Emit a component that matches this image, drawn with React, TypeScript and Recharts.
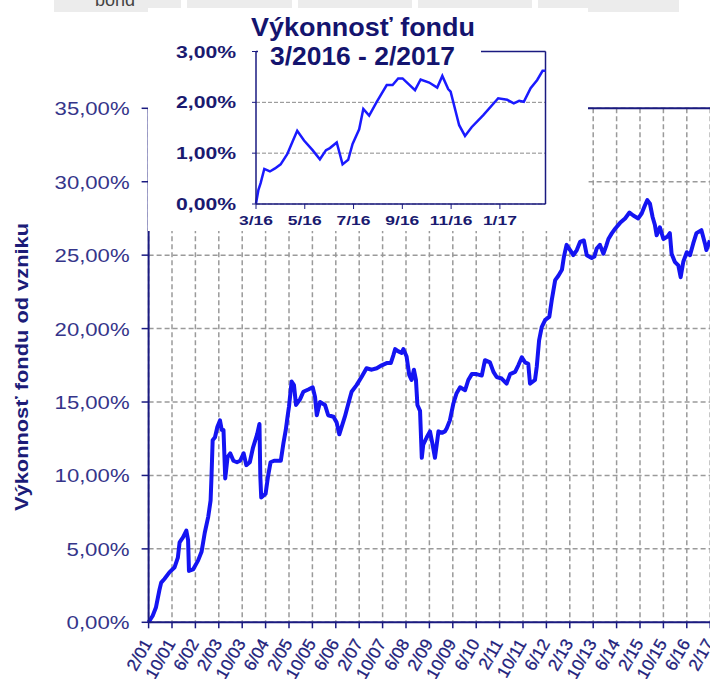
import React from "react";
import {
  LineChart,
  Line,
  XAxis,
  YAxis,
  CartesianGrid,
  ReferenceLine,
} from "recharts";

// main chart: months since 2/2001, cumulative performance in %
const mainMonths = [
  0, 1.4, 2.5, 3.7, 4.3, 5.4, 7.1, 8.9, 10, 10.6, 11.8, 12.9, 13.5, 13.8, 15.2, 16.9, 18.1,
  19.2, 20.4, 21.2, 21.5, 21.9, 22.7, 23.5, 24.4, 25, 25.6, 26.2, 27, 27.9, 29, 30.2, 31.3,
  32.5, 33.4, 34.6, 35.7, 37.1, 37.9, 38.2, 38.5, 40, 40.8, 41.7, 42.9, 45.2, 46.1, 46.9,
  47.5, 48, 48.9, 49.7, 50.4, 51.8, 52.9, 54.6, 56.1, 56.9, 57.5, 58.6, 60.3, 61.4, 63.2,
  64.3, 65.2, 66, 67.1, 68.3, 69.4, 71.1, 72.8, 74.5, 76.3, 78, 79.7, 81.4, 82.8, 83.7,
  84.3, 85.4, 86.5, 87.1, 88.2, 89.1, 89.9, 90.7, 91.4, 91.9, 92.8, 93.4, 93.9, 95.1, 96.2,
  97.1, 97.9, 99.1, 100.3, 101.3, 101.9, 103, 104.2, 105.3, 106.5, 108.2, 109.3, 110.5,
  112.1, 113.9, 115, 116.7, 117.9, 119, 120.7, 122.4, 123.6, 125.3, 126.4, 127.6, 128.7,
  129.8, 130.4, 132.1, 132.7, 133.5, 134.4, 135.6, 137, 137.8, 139, 140.1, 141.3, 142,
  142.9, 144.1, 145.2, 146.4, 147.5, 148.8, 149.8, 151.5, 152.4, 153.2, 154.3, 155.5,
  156.4, 157.2, 158.4, 159.5, 161.2, 162.9, 164.4, 165.7, 167.4, 168.6, 169.7, 170.5,
  171.4, 172.3, 173.1, 173.7, 174.8, 176, 177.3, 178.2, 178.8, 179.9, 181.1, 181.9, 182.8,
  184, 185.1, 186.2, 187.3, 189, 190.2, 190.7, 191.9,
];
const mainValues = [
  0, 0.45, 1.0, 2.2, 2.7, 2.95, 3.4, 3.75, 4.4, 5.45, 5.8, 6.25, 5.6, 3.5, 3.6, 4.2, 4.8,
  6.1, 7.2, 8.3, 9.9, 12.4, 12.6, 13.3, 13.75, 13.1, 13.1, 9.8, 11.25, 11.5, 11.0, 10.9, 11.0,
  11.5, 10.7, 10.9, 11.9, 12.8, 13.5, 9.9, 8.5, 8.75, 9.9, 10.9, 11.0, 11.0, 12.2, 13.1,
  14.0, 14.7, 16.4, 16.15, 14.8, 15.2, 15.7, 15.85, 16.0, 15.35, 14.1, 15.0, 14.8, 14.1, 14.0,
  13.6, 12.8, 13.3, 14.0, 14.9, 15.7, 16.15, 16.7, 17.3, 17.2, 17.3, 17.5, 17.65, 17.65, 18.2,
  18.6, 18.45, 18.35, 18.6, 18.1, 16.85, 16.5, 17.2, 16.5, 14.8, 14.4, 11.2, 12.1, 12.6, 13.0,
  12.1, 11.2, 13.0, 12.9, 13.0, 13.2, 13.75, 14.9, 15.6, 16.0, 15.8, 16.5, 16.9,
  16.9, 16.8, 17.85, 17.7, 17.05, 16.7, 16.6, 16.25, 16.9, 17.05, 17.5, 18.05, 17.7,
  17.6, 16.25, 16.5, 17.4, 19.2, 20.1, 20.6, 20.8, 21.9, 23.3, 23.6, 24.0, 24.9,
  25.7, 25.35, 25.0, 25.35, 25.9, 26.0, 25.0, 24.8, 24.9, 25.45, 25.7, 25.1,
  25.6, 26.1, 26.5, 26.8, 27.2, 27.5, 27.9, 27.7, 27.5, 27.85, 28.4, 28.75,
  28.5, 27.6, 27.05, 26.35, 26.9, 26.1, 26.25, 26.5, 25.1, 24.55, 24.3, 23.5, 24.55,
  25.2, 25.0, 25.8, 26.5, 26.7, 25.8, 25.35, 26.0,
];
const xTickLabels = [
  "2/01", "10/01", "6/02", "2/03", "10/03", "6/04", "2/05", "10/05", "6/06", "2/07",
  "10/07", "6/08", "2/09", "10/09", "6/10", "2/11", "10/11", "6/12", "2/13", "10/13",
  "6/14", "2/15", "10/15", "6/16", "2/17",
];
const yTicks = [0, 5, 10, 15, 20, 25, 30, 35];

// inset: months since 3/2016
const insetMonths = [
  0, 0.1, 0.19, 0.34, 0.57, 0.78, 1.01, 1.28, 1.5, 1.69, 1.97, 2.32, 2.62, 2.87, 3.03, 3.31,
  3.55, 3.78, 3.96, 4.23, 4.4, 4.64, 4.95, 5.36, 5.6, 5.83, 6.01, 6.52, 6.75, 7.1, 7.43,
  7.64, 7.88, 7.98, 8.33, 8.57, 8.84, 9.32, 9.93, 10.3, 10.57, 10.79, 10.98, 11.26, 11.53,
  11.75, 11.87,
];
const insetValues = [
  0.01, 0.28, 0.41, 0.69, 0.64, 0.7, 0.78, 0.98, 1.23, 1.44, 1.25, 1.06, 0.88, 1.06, 1.1, 1.21,
  0.78, 0.87, 1.18, 1.47, 1.87, 1.74, 2.01, 2.34, 2.34, 2.47, 2.47, 2.24, 2.45, 2.39, 2.29,
  2.52, 2.26, 2.21, 1.55, 1.34, 1.51, 1.75, 2.08, 2.05, 1.98, 2.03, 2.01, 2.28, 2.44,
  2.62, 2.62,
];
const insetTickLabels = ["3/16", "5/16", "7/16", "9/16", "11/16", "1/17"];
const insetYTicks = [0, 1, 2, 3];

const mainData = mainMonths.map((m, i) => ({ m, v: mainValues[i] }));
const insetData = insetMonths.map((m, i) => ({ m, v: insetValues[i] }));

const NAVY = "#1a1a80";
const FONT = "'Liberation Sans', Arial, sans-serif";
const pct = (v: number) => v.toFixed(2).replace(".", ",") + "%";

function MainYTick({ x, y, payload }: any) {
  const label = pct(payload.value);
  return (
    <text
      x={x}
      y={y}
      dy={7}
      textAnchor="end"
      fontSize={19}
      fontFamily={FONT}
      fill="#35358a"
      textLength={label.length === 6 ? 75 : 63}
      lengthAdjust="spacingAndGlyphs"
    >
      {label}
    </text>
  );
}

function MainXTick({ x, y, payload }: any) {
  const label = xTickLabels[Math.round(payload.value / 8)];
  const lx = x + 4;
  const ly = y + 13;
  return (
    <text
      x={lx}
      y={ly}
      transform={`rotate(-60 ${lx} ${ly})`}
      textAnchor="end"
      fontSize={17}
      fontFamily={FONT}
      fill="#22227c"
      stroke="#22227c"
      strokeWidth={0.3}
    >
      {label}
    </text>
  );
}

function InsetYTick({ x, y, payload }: any) {
  return (
    <text
      x={x}
      y={y}
      dy={6}
      textAnchor="end"
      fontSize={16}
      fontWeight="bold"
      fontFamily={FONT}
      fill="#1a1a70"
      textLength={60}
      lengthAdjust="spacingAndGlyphs"
    >
      {pct(payload.value)}
    </text>
  );
}

function InsetXTick({ x, y, payload }: any) {
  const label = insetTickLabels[Math.round(payload.value / 2)];
  return (
    <text
      x={x}
      y={y}
      dy={14}
      textAnchor="middle"
      fontSize={13}
      fontWeight="bold"
      fontFamily={FONT}
      fill="#1a1a70"
      textLength={label.length * 8.5}
      lengthAdjust="spacingAndGlyphs"
    >
      {label}
    </text>
  );
}

const layer: React.CSSProperties = { position: "absolute", left: 0, top: 0 };

export default function App() {
  return (
    <div
      style={{
        position: "absolute",
        left: 0,
        top: 0,
        width: 710,
        height: 679,
        overflow: "hidden",
        background: "#fff",
      }}
    >
      {/* main chart */}
      <div style={layer}>
        <LineChart
          width={720}
          height={720}
          data={mainData}
          margin={{ top: 108.3, right: 9.8, bottom: 0, left: 0 }}
        >
          <CartesianGrid stroke="#9a9a9a" strokeDasharray="5 3" strokeWidth={1.5} />
          <XAxis
            dataKey="m"
            type="number"
            domain={[0, 192]}
            ticks={xTickLabels.map((_, i) => i * 8)}
            interval={0}
            height={97.7}
            tickSize={6}
            axisLine={{ stroke: NAVY, strokeWidth: 2 }}
            tickLine={{ stroke: NAVY, strokeWidth: 1.5 }}
            tick={<MainXTick />}
          />
          <YAxis
            type="number"
            domain={[0, 35]}
            ticks={yTicks}
            width={148.6}
            tickSize={7}
            tickMargin={12}
            axisLine={{ stroke: NAVY, strokeWidth: 2 }}
            tickLine={{ stroke: NAVY, strokeWidth: 1.5 }}
            tick={<MainYTick />}
          />
          <ReferenceLine y={35} stroke={NAVY} strokeWidth={2} />
          <Line
            dataKey="v"
            type="linear"
            stroke="#1414f2"
            strokeWidth={4}
            strokeLinejoin="round"
            dot={false}
            isAnimationActive={false}
          />
        </LineChart>
      </div>

      {/* page header strips, axis title and white cover behind the inset */}
      <svg style={layer} width={710} height={679}>
        <g fill="#ececec">
          <rect x={54} y={0} width={127} height={12} />
          <rect x={187} y={0} width={105} height={12} />
          <rect x={298} y={0} width={114} height={12} />
          <rect x={418} y={0} width={114} height={12} />
          <rect x={538} y={0} width={141} height={12} />
        </g>
        <text x={95} y={6} fontSize={18} fontFamily={FONT} fill="#444">
          bond
        </text>
        <rect x={148} y={8} width={440} height={223} fill="#fff" />
        <text
          x={28}
          y={367}
          transform="rotate(-90 28 367)"
          textAnchor="middle"
          fontSize={19}
          fontWeight="bold"
          fontFamily={FONT}
          fill="#1c1c78"
          textLength={288}
          lengthAdjust="spacingAndGlyphs"
        >
          Výkonnosť fondu od vzniku
        </text>
      </svg>

      {/* inset chart */}
      <div style={layer}>
        <LineChart
          width={560}
          height={240}
          data={insetData}
          margin={{ top: 51.5, right: 14.5, bottom: 0, left: 0 }}
        >
          <CartesianGrid vertical={false} stroke="#8a8a8a" strokeDasharray="4 2" />
          <XAxis
            dataKey="m"
            type="number"
            domain={[0, 11.87]}
            ticks={insetTickLabels.map((_, i) => i * 2)}
            interval={0}
            height={36}
            tickSize={5}
            axisLine={{ stroke: NAVY, strokeWidth: 1.5 }}
            tickLine={{ stroke: NAVY }}
            tick={<InsetXTick />}
          />
          <YAxis
            type="number"
            domain={[0, 3]}
            ticks={insetYTicks}
            width={256}
            tickSize={4}
            tickMargin={16}
            axisLine={{ stroke: NAVY, strokeWidth: 1.5 }}
            tickLine={{ stroke: NAVY }}
            tick={<InsetYTick />}
          />
          <ReferenceLine x={11.87} stroke={NAVY} strokeWidth={1.5} />
          <ReferenceLine y={3} stroke={NAVY} strokeWidth={1.5} />
          <Line
            dataKey="v"
            type="linear"
            stroke="#1a1aff"
            strokeWidth={2.5}
            dot={false}
            isAnimationActive={false}
          />
        </LineChart>
      </div>

      {/* inset title */}
      <svg style={layer} width={710} height={679}>
        <rect x={258} y={9} width={223} height={44} fill="#fff" />
        <g
          fontFamily={FONT}
          fontWeight="bold"
          fontSize={25}
          fill="#14146e"
          textAnchor="middle"
        >
          <text x={363} y={36} textLength={224} lengthAdjust="spacingAndGlyphs">
            Výkonnosť fondu
          </text>
          <text x={362.5} y={65} textLength={185} lengthAdjust="spacingAndGlyphs">
            3/2016 - 2/2017
          </text>
        </g>
      </svg>
    </div>
  );
}
